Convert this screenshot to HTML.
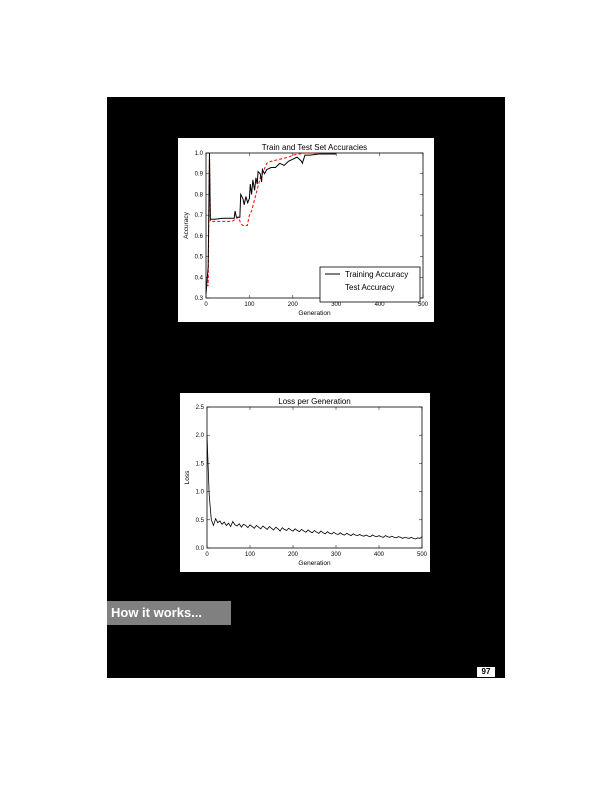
<!DOCTYPE html>
<html><head><meta charset="utf-8"><style>
body{margin:0;background:#fff;width:612px;height:792px;position:relative;overflow:hidden;font-family:"Liberation Sans",sans-serif}
#page{position:absolute;left:107px;top:97px;width:398px;height:581px;background:#000}
.box{position:absolute;background:#fff}
#how{position:absolute;left:107px;top:601px;width:124px;height:24px;background:#808080;color:#fff;font-weight:bold;font-size:13px;line-height:24px;padding-left:4px;box-sizing:border-box}
#pg{position:absolute;left:477px;top:667px;width:18px;height:10px;background:#fff;font-size:8px;font-weight:bold;text-align:center;line-height:10px}
svg text{font-family:"Liberation Sans",sans-serif}
</style></head><body>
<div id="page"></div>
<div class="box" style="left:178px;top:138px;width:256px;height:184px"></div>
<div class="box" style="left:180px;top:393px;width:250px;height:179px"></div>
<svg id="svg" width="612" height="792" style="position:absolute;left:0;top:0"></svg>
<div id="how">How it works...</div>
<div id="pg">97</div>
<script>
const trainGen=[0,5,8,10,20,40,65,67,70,78,80,85,88,92,96,100,102,105,108,112,115,118,120,125,128,130,135,140,150,160,170,180,190,200,210,220,222,228,240,260,300];
const trainAcc=[0.32,0.45,1.0,0.68,0.68,0.685,0.685,0.72,0.69,0.69,0.8,0.78,0.75,0.79,0.76,0.78,0.85,0.8,0.87,0.82,0.88,0.85,0.91,0.9,0.86,0.92,0.9,0.92,0.93,0.93,0.95,0.94,0.96,0.97,0.98,0.96,0.95,0.99,0.99,0.995,0.995];
const testGen=[0,5,8,10,20,60,75,80,85,95,100,105,110,115,120,125,130,140,150,170,190,200,230,300];
const testAcc=[0.36,0.36,1.0,0.67,0.67,0.67,0.69,0.66,0.65,0.65,0.7,0.72,0.76,0.8,0.84,0.88,0.9,0.95,0.96,0.97,0.98,0.99,1.0,0.995];
const accTicksX=[0,100,200,300,400,500];
const accTicksY=[0.3,0.4,0.5,0.6,0.7,0.8,0.9,1.0];
const lossVals=[2.0,0.95,0.5,0.4,0.52,0.45,0.48,0.42,0.46,0.4,0.44,0.38,0.47,0.41,0.39,0.43,0.37,0.42,0.4,0.36,0.41,0.38,0.35,0.4,0.37,0.34,0.39,0.36,0.33,0.38,0.35,0.32,0.37,0.34,0.3,0.36,0.33,0.31,0.35,0.32,0.3,0.34,0.31,0.29,0.33,0.3,0.28,0.32,0.29,0.27,0.31,0.28,0.26,0.3,0.27,0.25,0.29,0.26,0.25,0.28,0.25,0.24,0.27,0.24,0.23,0.26,0.24,0.22,0.25,0.23,0.22,0.24,0.22,0.21,0.23,0.21,0.2,0.23,0.21,0.2,0.22,0.2,0.19,0.22,0.2,0.19,0.21,0.19,0.18,0.2,0.19,0.17,0.19,0.18,0.17,0.19,0.17,0.16,0.18,0.17,0.2];
const lossStep=5;
const lossTicksX=[0,100,200,300,400,500];
const lossTicksY=[0.0,0.5,1.0,1.5,2.0,2.5];
const NS='http://www.w3.org/2000/svg',svg=document.getElementById('svg');
function mk(t,a,p){const e=document.createElementNS(NS,t);for(const k in a)e.setAttribute(k,a[k]);(p||svg).appendChild(e);return e;}
function chart(o){
 const g=mk('g',{});
 
 
 const sx=v=>o.l+(v-o.x0)/(o.x1-o.x0)*(o.r-o.l), sy=v=>o.b-(v-o.y0)/(o.y1-o.y0)*(o.b-o.t);
 mk('rect',{x:o.l,y:o.t,width:o.r-o.l,height:o.b-o.t,fill:'none',stroke:'#000','stroke-width':0.8},g);
 o.tx.forEach(v=>{const x=sx(v);mk('line',{x1:x,x2:x,y1:o.b,y2:o.b-3,stroke:'#000','stroke-width':0.5},g);mk('line',{x1:x,x2:x,y1:o.t,y2:o.t+3,stroke:'#000','stroke-width':0.5},g);const t=mk('text',{x:x,y:o.b+8,'font-size':6,'text-anchor':'middle'},g);t.textContent=v;});
 o.ty.forEach(v=>{const y=sy(v);mk('line',{x1:o.l,x2:o.l+3,y1:y,y2:y,stroke:'#000','stroke-width':0.5},g);mk('line',{x1:o.r,x2:o.r-3,y1:y,y2:y,stroke:'#000','stroke-width':0.5},g);const t=mk('text',{x:o.l-3,y:y+2,'font-size':6,'text-anchor':'end'},g);t.textContent=v.toFixed(1);});
 let t=mk('text',{x:(o.l+o.r)/2,y:o.t-3,'font-size':8,'text-anchor':'middle'},g);t.textContent=o.title;
 t=mk('text',{x:(o.l+o.r)/2,y:o.b+17,'font-size':6.5,'text-anchor':'middle'},g);t.textContent='Generation';
 t=mk('text',{x:0,y:0,'font-size':6.5,'text-anchor':'middle',transform:`translate(${o.l-18},${(o.t+o.b)/2}) rotate(-90)`},g);t.textContent=o.ylab;
 return {g,sx,sy};
}
const A=chart({name:'accuracy-chart',l:206,r:423,t:153,b:298,x0:0,x1:500,y0:0.3,y1:1.0,tx:accTicksX,ty:accTicksY,title:'Train and Test Set Accuracies',ylab:'Accuracy'});
let p=mk('polyline',{points:testGen.map((g,i)=>A.sx(g)+','+A.sy(testAcc[i])).join(' '),fill:'none',stroke:'#f00','stroke-width':1,'stroke-dasharray':'3,2'},A.g);

p=mk('polyline',{points:trainGen.map((g,i)=>A.sx(g)+','+A.sy(trainAcc[i])).join(' '),fill:'none',stroke:'#000','stroke-width':1},A.g);

const lg=mk('g',{},A.g);


mk('rect',{x:320,y:267,width:100,height:35,fill:'#fff',stroke:'#000','stroke-width':0.8},lg);
mk('line',{x1:325,x2:340,y1:274,y2:274,stroke:'#000'},lg);
let lt=mk('text',{x:345,y:277,'font-size':8},lg);lt.textContent='Training Accuracy';
lt=mk('text',{x:345,y:290,'font-size':8},lg);lt.textContent='Test Accuracy';
const L=chart({name:'loss-chart',l:207,r:422,t:407,b:548,x0:0,x1:500,y0:0,y1:2.5,tx:lossTicksX,ty:lossTicksY,title:'Loss per Generation',ylab:'Loss'});
p=mk('polyline',{points:lossVals.map((v,i)=>L.sx(i*lossStep)+','+L.sy(v)).join(' '),fill:'none',stroke:'#000','stroke-width':0.8},L.g);

</script>
</body></html>
